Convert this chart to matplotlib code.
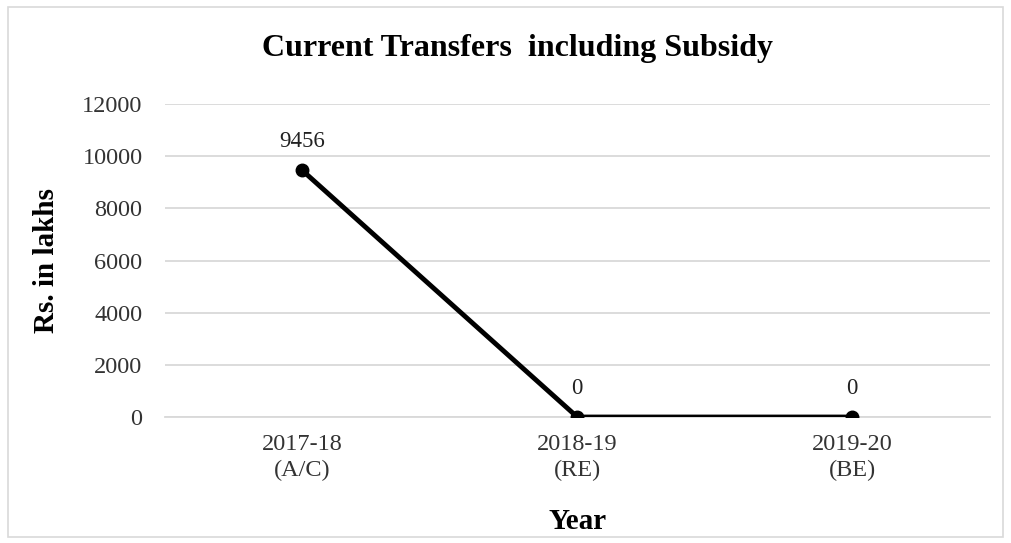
import matplotlib.pyplot as plt
from matplotlib.patches import Rectangle

plt.rcParams['font.family'] = ['Liberation Serif', 'DejaVu Serif']

years = ['2017-18\n(A/C)', '2018-19\n(RE)', '2019-20\n(BE)']
values = [9456, 0, 0]
y_ticks = [0, 2000, 4000, 6000, 8000, 10000, 12000]

fig = plt.figure(figsize=(10.11, 5.43), dpi=100)
ax = fig.add_axes([0.163, 0.232, 0.816, 0.5764])

x = list(range(len(years)))
ax.plot(x, values, color='black', lw=3.5, marker='o', markersize=9, zorder=3)
for xi, v in zip(x, values):
    ax.annotate(str(v), (xi, v), xytext=(0, 13), textcoords='offset points',
                ha='center', va='bottom', fontsize=16.5, color='#222222')

ax.set_xlim(-0.5, 2.5)
ax.set_ylim(0, 12000)
ax.set_yticks(y_ticks)
ax.set_xticks(x)
ax.set_xticklabels(years, fontsize=17.5, color='#333333', linespacing=1.3)
ax.tick_params(axis='y', labelsize=17.5, colors='#333333', length=0, pad=16)
ax.tick_params(axis='x', length=0, pad=12)
ax.grid(axis='y', color='#d9d9d9', lw=1.3)
ax.set_axisbelow(True)
for s in ['top', 'right', 'left']:
    ax.spines[s].set_visible(False)
ax.spines['bottom'].set_color('#d9d9d9')
ax.spines['bottom'].set_linewidth(1.3)

ax.set_ylabel('Rs. in lakhs', fontsize=21, fontweight='bold', labelpad=16)
ax.set_xlabel('Year', fontsize=21, fontweight='bold', labelpad=20)
fig.text(0.512, 0.91, 'Current Transfers  including Subsidy', ha='center', va='center',
         fontsize=23, fontweight='bold')

fig.patches.append(Rectangle((0.008, 0.011), 0.984, 0.976, transform=fig.transFigure,
                             fill=False, edgecolor='#d9d9d9', lw=1.2))

fig.savefig('out.png', dpi=100)
